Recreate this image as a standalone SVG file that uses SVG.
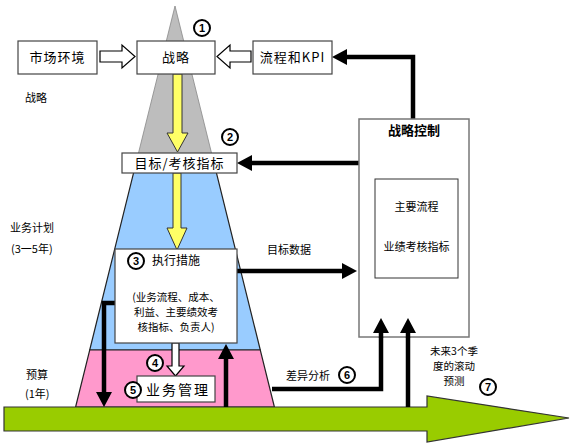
<svg xmlns="http://www.w3.org/2000/svg" width="571" height="444" viewBox="0 0 571 444">
<defs>
<style>
text{font-family:"Noto Sans CJK SC","Liberation Sans",sans-serif;fill:#000}
.box{fill:#fff;stroke:#444;stroke-width:1.2}
.lbl{font-size:11px}
.bt{font-size:13px;text-anchor:middle;letter-spacing:1px}
.num{fill:#fff;stroke:#000;stroke-width:2}
.numt{font-size:11px;font-weight:bold;text-anchor:middle;font-family:"Liberation Sans",sans-serif}
.blk{fill:none;stroke:#000;stroke-width:4.5}
.hollow{fill:#fff;stroke:#000;stroke-width:1.2}
.yel{fill:#FFFF66;stroke:#333;stroke-width:1}
.ex{font-size:10.5px;text-anchor:middle}
</style>
<marker id="ah" markerUnits="userSpaceOnUse" markerWidth="16" markerHeight="16" refX="3" refY="8" orient="auto" viewBox="0 0 16 16">
<path d="M0,0 L15,8 L0,16 z" fill="#000"/>
</marker>
</defs>
<rect width="571" height="444" fill="#fff"/>

<g id="pyramid">
<polygon points="175,6 136,163 214,163" fill="#BDBDBD" stroke="#888" stroke-width="0.8"/>
<polygon points="136,163 214,163 260.3,350 89.7,350" fill="#99CCFF" stroke="#222" stroke-width="1.2"/>
<polygon points="89.7,350 260.3,350 274.4,407 75.6,407" fill="#FF99CC" stroke="#222" stroke-width="1.2"/>
</g>

<g id="timeline">
<polygon points="4,407 427,407 427,396 569,418 427,442 427,431 4,431" fill="#99CC00" stroke="#333" stroke-width="1.2"/>
</g>

<g id="labels">
<text class="lbl" x="25" y="102">战略</text>
<text class="lbl" x="10" y="232">业务计划</text>
<text class="lbl" x="11" y="253">(3一5年)</text>
<text class="lbl" x="26" y="379">预算</text>
<text class="lbl" x="25" y="398">(1年)</text>
<text class="lbl" x="267" y="254">目标数据</text>
<text class="lbl" x="286" y="380">差异分析</text>
<text class="ex" x="454" y="355">未来3个季</text>
<text class="ex" x="454" y="370">度的滚动</text>
<text class="ex" x="454" y="385">预测</text>
</g>

<g id="connectors">
<polygon class="hollow" points="100,51 122,51 122,45 135,56.5 122,68 122,62 100,62"/>
<polygon class="hollow" points="251,51 230,51 230,45 217,56.5 230,68 230,62 251,62"/>
<polygon class="yel" points="173,74 182,74 182,133 188,133 177.5,152 167,133 173,133"/>
<polygon class="yel" points="173,173 181,173 181,228 187,228 177,250 167,228 173,228"/>
<polygon class="hollow" points="172,343 179,343 179,366 184,366 175.5,376 167,366 172,366"/>
<path class="blk" d="M237,271 H345" marker-end="url(#ah)"/>
<path class="blk" d="M359,163 H249" marker-end="url(#ah)"/>
<path class="blk" d="M413,119 V57 H344" marker-end="url(#ah)"/>
<path class="blk" d="M115,303 H104 V395" marker-end="url(#ah)"/>
<path class="blk" d="M226,407 V356" marker-end="url(#ah)"/>
<path class="blk" d="M272,389 H381 V337"/>
<path class="blk" d="M408,407 V337"/>
</g>

<g id="market">
<rect class="box" x="18" y="41" width="79" height="33"/>
<text class="bt" x="57.5" y="62">市场环境</text>
</g>
<g id="strategy">
<rect class="box" x="137" y="41" width="78" height="33"/>
<text class="bt" x="176" y="62">战略</text>
</g>
<g id="process-kpi">
<rect class="box" x="253" y="41" width="79" height="33"/>
<text class="bt" x="292.5" y="62" letter-spacing="0.5">流程和KPI</text>
</g>
<g id="target">
<rect class="box" x="122" y="153" width="115" height="20"/>
<text class="bt" x="179.5" y="168">目标/考核指标</text>
</g>
<g id="execution">
<rect class="box" x="115" y="249" width="122" height="94"/>
<text x="152" y="265" style="font-size:12px">执行措施</text>
<text class="ex" x="176" y="301">(业务流程、成本、</text>
<text class="ex" x="176" y="316">利益、主要绩效考</text>
<text class="ex" x="176" y="331">核指标、负责人)</text>
</g>
<g id="business-mgmt">
<rect class="box" x="137" y="376" width="78" height="26"/>
<text class="bt" x="178" y="395" style="font-size:14px;letter-spacing:2px">业务管理</text>
</g>
<g id="strategic-control">
<rect x="359" y="119" width="110" height="218" fill="#fff" stroke="#777" stroke-width="1.5"/>
<text x="414" y="135" text-anchor="middle" style="font-size:13px;font-weight:bold">战略控制</text>
<rect x="375" y="179" width="83" height="99" fill="#fff" stroke="#333" stroke-width="1"/>
<text x="416.5" y="211" text-anchor="middle" style="font-size:11px">主要流程</text>
<text x="416.5" y="251" text-anchor="middle" style="font-size:11px">业绩考核指标</text>
</g>
<g id="arrows-over">
<path class="blk" d="M381,338 V330" marker-end="url(#ah)"/>
<path class="blk" d="M408,338 V330" marker-end="url(#ah)"/>
</g>

<g id="n1"><circle class="num" cx="202" cy="28" r="8"/><text class="numt" x="202" y="32">1</text></g>
<g id="n2"><circle class="num" cx="230" cy="137" r="8"/><text class="numt" x="230" y="141">2</text></g>
<g id="n3"><circle class="num" cx="136" cy="261" r="8"/><text class="numt" x="136" y="265">3</text></g>
<g id="n4"><circle class="num" cx="155" cy="363" r="8"/><text class="numt" x="155" y="367">4</text></g>
<g id="n5"><circle class="num" cx="133" cy="390" r="8"/><text class="numt" x="133" y="394">5</text></g>
<g id="n6"><circle class="num" cx="347" cy="375" r="8"/><text class="numt" x="347" y="379">6</text></g>
<g id="n7"><circle class="num" cx="488" cy="387" r="8"/><text class="numt" x="488" y="391">7</text></g>
</svg>
